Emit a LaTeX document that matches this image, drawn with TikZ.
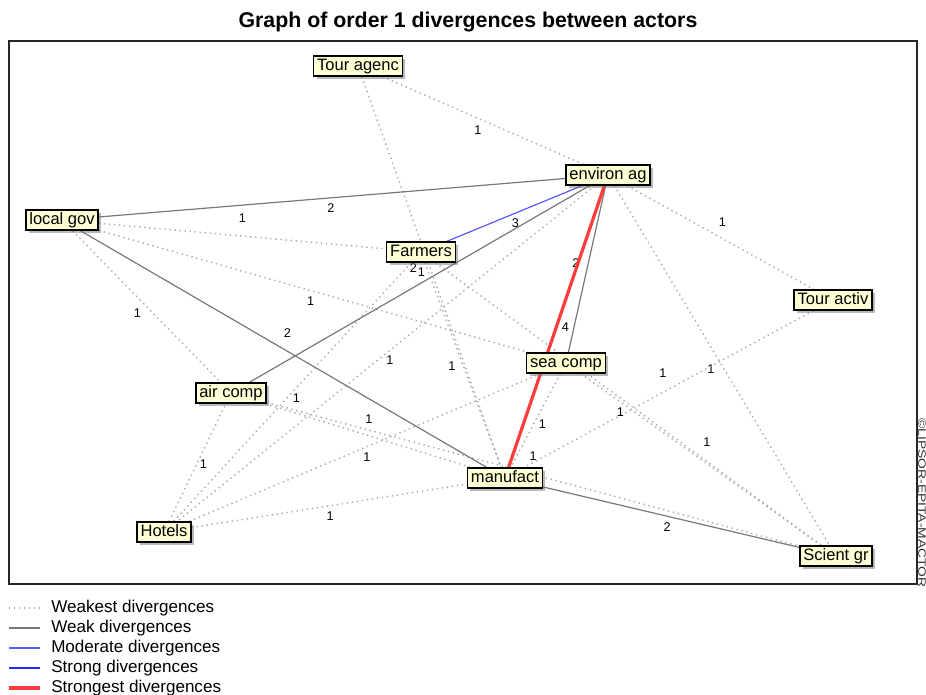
\documentclass[tikz,border=0pt]{standalone}
\usepackage{fontspec}
\setmainfont{Liberation Sans}
\usetikzlibrary{shadows, backgrounds}

\definecolor{boxfill}{RGB}{255,255,214}
\definecolor{weakgray}{RGB}{120,120,120}
\definecolor{dotgray}{RGB}{170,170,170}
\definecolor{modblue}{RGB}{90,90,255}
\definecolor{strongred}{RGB}{255,60,60}

\begin{document}
\begin{tikzpicture}[
    x=0.75pt, y=-0.75pt,
    actor/.style={rectangle, draw=black, line width=1pt, fill=boxfill, inner xsep=2.6pt, inner ysep=0pt, minimum height=15pt, text height=9.5pt, text depth=2.6pt, font=\fontsize{12.4}{14}\selectfont, drop shadow={shadow xshift=2.2pt, shadow yshift=-2.2pt, fill=black!55}},
    num/.style={font=\fontsize{9.5}{10}\selectfont, inner sep=0pt},
    weakest/.style={draw=dotgray, line width=1.1pt, dash pattern=on 1pt off 2.8pt},
    weak/.style={draw=weakgray, line width=0.9pt},
    moderate/.style={draw=modblue, line width=0.9pt},
    strong/.style={draw=blue!85!white, line width=1.8pt},
    strongest/.style={draw=strongred, line width=2.4pt},
    keytext/.style={anchor=west, inner sep=0pt, font=\fontsize{12.8}{14}\selectfont}
]
\useasboundingbox (0,0) rectangle (926,695);

% Title and frame
\node[font=\fontsize{16}{18}\selectfont\bfseries] (title) at (468,22) {Graph of order 1 divergences between actors};
\draw[line width=1.1pt, draw=black!85] (9,41) rectangle (917,584);
\node[rotate=-90, xscale=1.3, font=\fontsize{8}{9}\selectfont, text=black!80] (copyr) at (922,503) {\textcopyright LIPSOR-EPITA-MACTOR};

% Actors
\node[actor] (ta) at (358,66) {Tour agenc};
\node[actor] (ea) at (608,175) {environ ag};
\node[actor] (lg) at (62,220) {local gov};
\node[actor] (fa) at (421,252) {Farmers};
\node[actor] (tv) at (833,300) {Tour activ};
\node[actor] (sc) at (566,363) {sea comp};
\node[actor] (ac) at (231,393) {air comp};
\node[actor] (ma) at (505,478) {manufact};
\node[actor] (ho) at (164,532) {Hotels};
\node[actor] (sg) at (836,556) {Scient gr};

\begin{scope}[on background layer]
% Weakest divergences
\draw[weakest] (ta) -- (ea) node[num, midway, shift={(-5,10)}] {1};
\draw[weakest] (ta) -- (ma) node[num, midway, shift={(-10,0)}] {1};
\draw[weakest] (lg) -- (fa) node[num, midway, shift={(0,-18)}] {1};
\draw[weakest] (ea) -- (tv) node[num, midway, shift={(2,-15)}] {1};
\draw[weakest] (lg) -- (sc) node[num, midway, shift={(-3,10)}] {1};
\draw[weakest] (lg) -- (ac) node[num, midway, shift={(-9,7)}] {1};
\draw[weakest] (ea) -- (sg) node[num, midway, shift={(-11,4)}] {1};
\draw[weakest] (ea) -- (ho) node[num, midway, shift={(4,7)}] {1};
\draw[weakest] (fa) -- (ma) node[num, midway, shift={(-11,1)}] {1};
\draw[weakest] (ho) -- (ac) node[num, midway, shift={(6,2)}] {1};
\draw[weakest] (ho) -- (fa) node[num, midway, shift={(4,6)}] {1};
\draw[weakest] (ho) -- (sc) node[num, midway, shift={(2,10)}] {1};
\draw[weakest] (ho) -- (ma) node[num, midway, shift={(1,10)}] {1};
\draw[weakest] (sc) -- (ma) node[num, midway, shift={(7,4)}] {1};
\draw[weakest] (tv) -- (ma) node[num, midway, shift={(-6,-16)}] {1};
\draw[weakest] (fa) -- (sg) node[num, midway, shift={(-8,8)}] {1};
\draw[weakest] (sc) -- (sg) node[num, midway, shift={(6,-17)}] {1};
\draw[weakest] (ac) -- (ma) node[num, midway, shift={(1,-16)}] {1};
\draw[weakest] (ac) -- (sg) node[num, midway, shift={(0,-18)}] {1};

% Weak divergences
\draw[weak] (lg) -- (ea) node[num, midway, shift={(-1,10)}] {2};
\draw[weak] (lg) -- (ma) node[num, midway, shift={(4,-16)}] {2};
\draw[weak] (ac) -- (ea) node[num, midway, shift={(-6,-16)}] {2};
\draw[weak] (ea) -- (sc) node[num, midway, shift={(-11,-6)}] {2};
\draw[weak] (ma) -- (sg) node[num, midway, shift={(-4,10)}] {2};

% Moderate and strongest
\draw[moderate] (fa) -- (ea) node[num, midway, shift={(1,10)}] {3};
\draw[strongest] (ea) -- (ma) node[num, midway, shift={(9,1)}] {4};
\end{scope}

% Legend
\foreach \sty/\txt [count=\i] in {weakest/Weakest divergences, weak/Weak divergences, moderate/Moderate divergences, strong/Strong divergences, strongest/Strongest divergences}{
    \node[keytext] (key\i) at (51,588+20*\i) {\txt};
    \draw[\sty] ([xshift=-8pt]key\i.west) -- ++(-31,0);
}

\end{tikzpicture}
\end{document}
